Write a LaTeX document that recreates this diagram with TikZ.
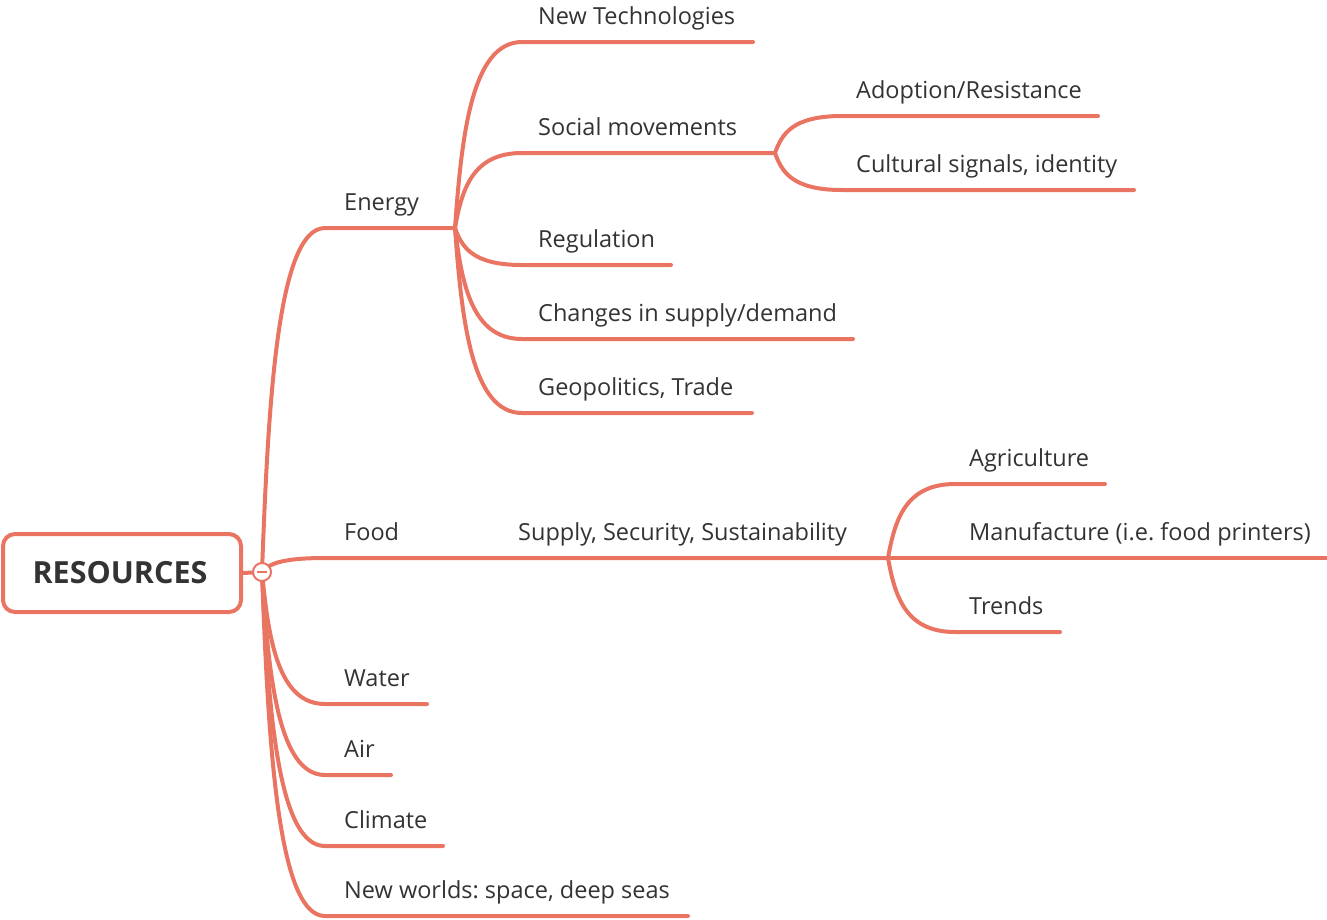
\documentclass[tikz,border=0pt]{standalone}
\usepackage{fontspec}
\setmainfont{Open Sans}
\usetikzlibrary{calc}
\definecolor{brc}{HTML}{EA7462}
\definecolor{txt}{HTML}{333333}
\frenchspacing
\begin{document}
\begin{tikzpicture}[x=1pt,y=-1pt,
  br/.style={draw=brc,line width=4pt,line cap=round},
  branch/.style={to path={let \p1=(\tikztostart),\p2=(\tikztotarget) in
     .. controls ({\x1+0.1*(\x2-\x1)},{\y1+0.5*(\y2-\y1)}) and ({\x1+0.25*(\x2-\x1)},{\y2}) .. (\tikztotarget) \tikztonodes}},
  lbl/.style={anchor=base west,inner sep=0pt,font=\fontsize{23.5}{28}\selectfont,text=txt},
  rootbox/.style={draw=brc,line width=4pt,rounded corners=12pt,fill=white,minimum width=238pt,minimum height=78pt},
  roottext/.style={inner sep=0pt,font=\fontsize{30.5}{36}\selectfont\bfseries,text=txt},
  collapse/.style={circle,draw=brc,line width=2pt,fill=white,minimum size=18pt,inner sep=0pt}]
\useasboundingbox (0,0) rectangle (1327,919);

% root
\node[rootbox] (root) at (122,573) {};
\node[roottext] (roottxt) at (120,573) {RESOURCES};
\coordinate (rj) at (262,572);

% level 1 coordinates
\coordinate (eL) at (325,228); \coordinate (eR) at (455,228);
\coordinate (fL) at (325,558); \coordinate (fR) at (415,558);
\coordinate (sL) at (505,558); \coordinate (sR) at (888,558);
\coordinate (wL) at (325,704); \coordinate (wR) at (427,704);
\coordinate (aL) at (325,775); \coordinate (aR) at (391,775);
\coordinate (cL) at (325,846); \coordinate (cR) at (443,846);
\coordinate (nL) at (325,916); \coordinate (nR) at (688,916);

% energy children
\coordinate (ntL) at (522,42);  \coordinate (ntR) at (753,42);
\coordinate (smL) at (522,153); \coordinate (smR) at (775,153);
\coordinate (arL) at (842,116); \coordinate (arR) at (1098,116);
\coordinate (csL) at (842,190); \coordinate (csR) at (1134,190);
\coordinate (rgL) at (522,265); \coordinate (rgR) at (671,265);
\coordinate (cdL) at (522,339); \coordinate (cdR) at (853,339);
\coordinate (gtL) at (522,413); \coordinate (gtR) at (752,413);

% food children
\coordinate (agL) at (955,484); \coordinate (agR) at (1105,484);
\coordinate (mfL) at (955,558); \coordinate (mfR) at (1327,558);
\coordinate (trL) at (955,632); \coordinate (trR) at (1060,632);

% connectors
\draw[br] (root.east) -- (rj);
\draw[br] (rj) to[branch] (eL) -- (eR);
\draw[br] (rj) to[branch] (fL) -- (fR) -- (sL) -- (sR);
\draw[br] (rj) to[branch] (wL) -- (wR);
\draw[br] (rj) to[branch] (aL) -- (aR);
\draw[br] (rj) to[branch] (cL) -- (cR);
\draw[br] (rj) to[branch] (nL) -- (nR);

\draw[br] (eR) to[branch] (ntL) -- (ntR);
\draw[br] (eR) to[branch] (smL) -- (smR);
\draw[br] (eR) to[branch] (rgL) -- (rgR);
\draw[br] (eR) to[branch] (cdL) -- (cdR);
\draw[br] (eR) to[branch] (gtL) -- (gtR);

\draw[br] (smR) to[branch] (arL) -- (arR);
\draw[br] (smR) to[branch] (csL) -- (csR);

\draw[br] (sR) to[branch] (agL) -- (agR);
\draw[br] (sR) -- (mfL) -- (mfR);
\draw[br] (sR) to[branch] (trL) -- (trR);

% collapse button
\node[collapse] (col) at (rj) {};
\draw[brc,line width=1.5pt] ([xshift=-5pt]col.center) -- ([xshift=5pt]col.center);

% labels
\node[lbl] (energy) at (344,210) {Energy};
\node[lbl] (food) at (344,540) {Food};
\node[lbl] (supply) at (518,540) {Supply, Security, Sustainability};
\node[lbl] (water) at (344,686) {Water};
\node[lbl] (air) at (344,757) {Air};
\node[lbl] (climate) at (344,828) {Climate};
\node[lbl] (newworlds) at (344,898) {New worlds: space, deep seas};

\node[lbl] (newtech) at (538,24) {New Technologies};
\node[lbl] (social) at (538,135) {Social movements};
\node[lbl] (adoption) at (856,98) {Adoption/Resistance};
\node[lbl] (cultural) at (856,172) {Cultural signals, identity};
\node[lbl] (regulation) at (538,247) {Regulation};
\node[lbl] (changes) at (538,321) {Changes in supply/demand};
\node[lbl] (geo) at (538,395) {Geopolitics, Trade};

\node[lbl] (agri) at (969,466) {Agriculture};
\node[lbl] (manu) at (969,540) {Manufacture (i.e. food printers)};
\node[lbl] (trends) at (969,614) {Trends};
\end{tikzpicture}
\end{document}
